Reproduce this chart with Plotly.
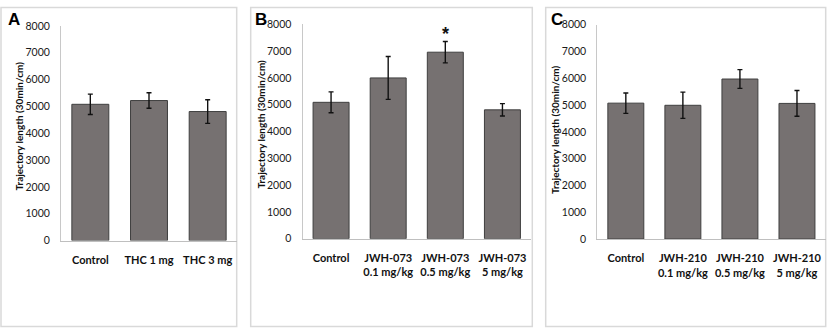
import plotly.graph_objects as go

W, H = 829, 335

# ---- data ----
cats_a = ["Control", "THC 1 mg", "THC 3 mg"]
vals_a = [5080, 5220, 4810]
err_a = [380, 290, 440]

cats_b = ["Control", "JWH-073<br>0.1 mg/kg", "JWH-073<br>0.5 mg/kg", "JWH-073<br>5 mg/kg"]
vals_b = [5090, 6000, 6960, 4810]
err_b = [390, 800, 400, 230]

cats_c = ["Control", "JWH-210<br>0.1 mg/kg", "JWH-210<br>0.5 mg/kg", "JWH-210<br>5 mg/kg"]
vals_c = [5070, 4990, 5970, 5060]
err_c = [380, 490, 350, 480]

y_ticks = [0, 1000, 2000, 3000, 4000, 5000, 6000, 7000, 8000]
y_title = "Trajectory length (30min/cm)"
panel_letters = ["A", "B", "C"]
sig_marker = {"cat": cats_b[2], "y": 7750, "text": "*"}

BAR = "#767171"
FONT = "Lato, 'Open Sans', sans-serif"

def px(x):
    return x / W

def py(y):
    return 1 - y / H

fig = go.Figure()

panels = [
    ("x", "y", cats_a, vals_a, err_a, (61, 237), (20.7, 243.3)),
    ("x2", "y2", cats_b, vals_b, err_b, (302.5, 531), (19.0, 241.4)),
    ("x3", "y3", cats_c, vals_c, err_c, (597.3, 825.5), (19.3, 241.7)),
]

for xa, ya, cats, vals, errs, (x0, x1), (ytop, ybot) in panels:
    fig.add_trace(go.Bar(
        x=cats, y=vals, xaxis=xa, yaxis=ya,
        width=0.63,
        marker=dict(color=BAR, line=dict(color="#3f3f3f", width=1)),
        error_y=dict(type="data", array=errs, visible=True,
                     color="#111111", thickness=1.4, width=2.5),
        showlegend=False, hoverinfo="skip",
    ))
    sfx = xa[1:]
    fig.layout["xaxis" + sfx] = dict(
        domain=[px(x0), px(x1)], anchor=ya, type="category",
        showline=True, linecolor="#bfbfbf", linewidth=1,
        showgrid=False, zeroline=False,
        ticks="outside", ticklen=9, tickcolor="rgba(0,0,0,0)",
        tickfont=dict(family=FONT, size=11, color="#111111", weight="bold"),
        fixedrange=True,
    )
    fig.layout["yaxis" + sfx] = dict(
        domain=[py(ybot), py(ytop)], anchor=xa,
        range=[0, 8000], tickvals=y_ticks,
        showline=True, linecolor="#c8c8c8", linewidth=1,
        showgrid=False, zeroline=False,
        ticks="outside", ticklen=8, tickcolor="rgba(0,0,0,0)",
        tickfont=dict(family=FONT, size=10.5, color="#1a1a1a"),
        fixedrange=True,
    )

# panel borders
boxes = [(1, 1.5, 236.7, 332.5), (250.7, 1.5, 532.3, 332.5), (545.7, 1.5, 825.7, 332.5)]
for bx0, by0, bx1, by1 in boxes:
    fig.add_shape(type="rect", xref="paper", yref="paper",
                  x0=px(bx0), x1=px(bx1), y0=py(by1), y1=py(by0),
                  line=dict(color="#d9d9d9", width=1.5), layer="below")

# axis titles
for tx, ty in [(19, 125), (261, 123), (555.7, 128)]:
    fig.add_annotation(xref="paper", yref="paper", x=px(tx), y=py(ty),
                       text=y_title, textangle=-90, showarrow=False,
                       font=dict(family=FONT, size=10, color="#111111", weight="bold"),
                       xanchor="center", yanchor="middle")

# panel letters
for (lx, ly), letter in zip([(13.5, 14.5), (260.5, 14.5), (557, 14.5)], panel_letters):
    fig.add_annotation(xref="paper", yref="paper", x=px(lx), y=py(ly),
                       text="<b>%s</b>" % letter, showarrow=False,
                       font=dict(family="Liberation Sans, Arial, sans-serif", size=17, color="#000000"),
                       xanchor="center", yanchor="middle")

# significance asterisk
fig.add_annotation(xref="x2", yref="y2", x=sig_marker["cat"], y=sig_marker["y"],
                   text="<b>%s</b>" % sig_marker["text"], showarrow=False,
                   font=dict(family="Liberation Sans, Arial, sans-serif", size=18, color="#111111"),
                   xanchor="center", yanchor="middle", yshift=-3)

fig.update_layout(
    width=W, height=H, margin=dict(l=0, r=0, t=0, b=0),
    paper_bgcolor="white", plot_bgcolor="rgba(0,0,0,0)",
    bargap=0.37,
)

fig.write_html(
    "out.html",
    config={"displayModeBar": False},
    post_script="document.body.style.margin='0';document.body.style.overflow='hidden';",
)
